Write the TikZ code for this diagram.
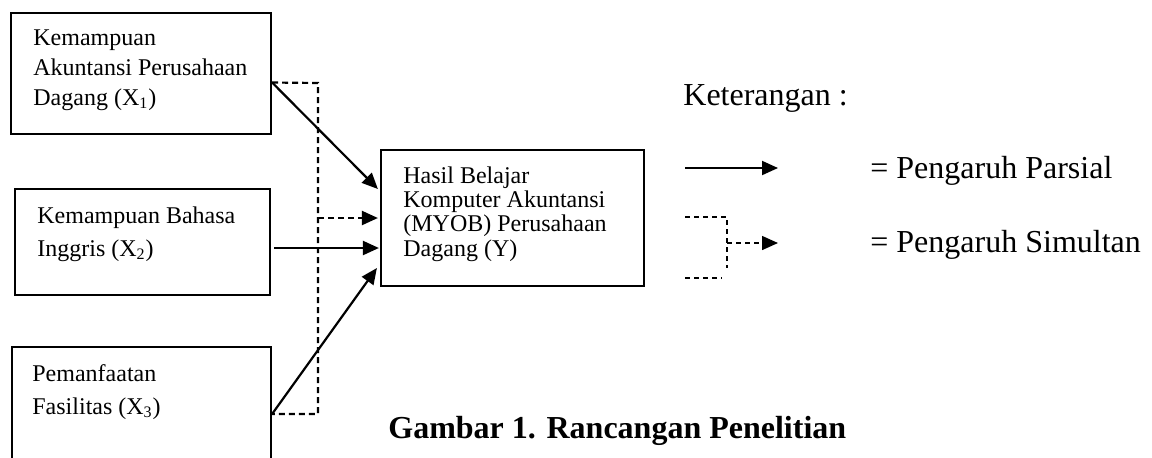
\documentclass[tikz,border=0pt]{standalone}
\usepackage{fontspec}
\setmainfont{Liberation Serif}
\usetikzlibrary{arrows.meta,fit}

\tikzset{
    varbox/.style={draw, line width=1.1pt, inner sep=0pt},
    boxtext/.style={anchor=north west, inner sep=0pt, align=left},
    parsial/.style={line width=1.1pt, -{Triangle[length=8pt,width=7pt]}},
    simultan/.style={line width=1.1pt, dash pattern=on 3pt off 2pt},
    legtext/.style={anchor=base west, inner sep=0pt, font=\fontsize{16}{19}\selectfont},
}

\begin{document}
\begin{tikzpicture}[x=0.5pt,y=-0.5pt] %1 unit = 1 pixel of the reference
    \clip (0,0) rectangle (1152,457);

    % Draw Variable Boxes
    \node[varbox, fit={(11,13) (271,134)}] (x1) {};
    \node[varbox, fit={(15,189) (270,295)}] (x2) {};
    \node[varbox, fit={(12,347) (271,470)}] (x3) {};
    \node[varbox, fit={(381,150) (644,286)}] (y) {};

    % Box Texts
    \node[boxtext, font=\fontsize{12}{15}\selectfont] (x1txt) at (33,29)
        {Kemampuan\\Akuntansi Perusahaan\\Dagang (X\textsubscript{1})};
    \node[boxtext, font=\fontsize{12}{16.5}\selectfont] (x2txt) at (37,206)
        {Kemampuan Bahasa\\Inggris (X\textsubscript{2})};
    \node[boxtext, font=\fontsize{12}{16.5}\selectfont] (x3txt) at (32,364)
        {Pemanfaatan\\Fasilitas (X\textsubscript{3})};
    \node[boxtext, font=\fontsize{12}{12.2}\selectfont] (ytxt) at (403,166)
        {Hasil Belajar\\Komputer Akuntansi\\(MYOB) Perusahaan\\Dagang (Y)};

    % Arrow End Points
    \path (x1.east) ++(0,9) coordinate (x1out);
    \path (x2.east) ++(3,6) coordinate (x2out);
    \path (x3.east) ++(0,5.5) coordinate (x3out);
    \path (y.west) ++(-2,-29) coordinate (yin1);
    \path (y.west) ++(-1,30) coordinate (yin2);
    \path (y.west) ++(-3,50) coordinate (yin3);
    % -- dashed bracket
    \coordinate (brtop) at (318,83);
    \coordinate (brmid) at (318,218);
    \coordinate (brbot) at (318,414);

    % Draw Partial Arrows
    \draw[parsial] (x1out) -- (yin1);
    \draw[parsial] (x2out) -- (yin2);
    \draw[parsial] (x3out) -- (yin3);

    % Draw Simultaneous Bracket
    \draw[simultan] (x1out) -- (brtop) -- (brbot) -- (x3out);
    \draw[simultan, -{Triangle[length=8pt,width=7pt]}] (brmid) -- ([xshift=-1pt]y.west);

    % Legend
    \node[legtext] (ket) at (683,105) {Keterangan :};
    % -- partial
    \coordinate (lg1a) at (685,168);
    \coordinate (lg1b) at (778,168);
    \draw[line width=1pt, -{Triangle[length=8pt,width=7pt]}] (lg1a) -- (lg1b);
    \node[legtext] (lgparsial) at (870,178) {= Pengaruh Parsial};
    % -- simultaneous
    \coordinate (lg2a) at (685,217);
    \coordinate (lg2b) at (727,217);
    \coordinate (lg2c) at (727,268);
    \coordinate (lg2d) at (685,278);
    \coordinate (lg2e) at (722,278);
    \coordinate (lg2m) at (727,243);
    \coordinate (lg2n) at (778,243);
    \draw[line width=0.75pt, dash pattern=on 2.5pt off 2pt] (lg2a) -- (lg2b) -- (lg2c);
    \draw[line width=0.75pt, dash pattern=on 2.5pt off 2pt] (lg2d) -- (lg2e);
    \draw[line width=0.75pt, dash pattern=on 2.5pt off 2pt, -{Triangle[length=8pt,width=7pt]}] (lg2m) -- (lg2n);
    \node[legtext] (lgsimultan) at (870,252) {= Pengaruh Simultan};

    % Caption
    \node[legtext, font=\fontsize{16}{19}\selectfont\bfseries] (caption) at (388,438)
        {Gambar 1. Rancangan Penelitian};
\end{tikzpicture}
\end{document}
